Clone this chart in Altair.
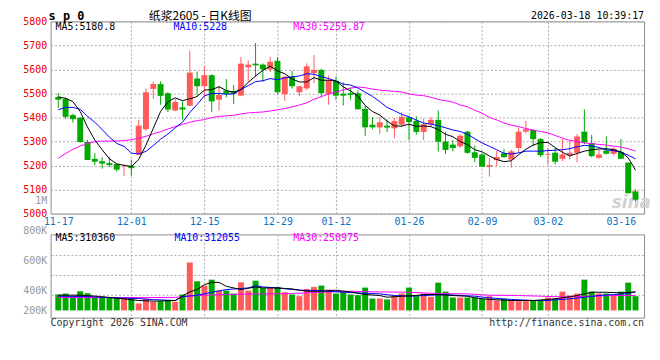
import altair as alt
import pandas as pd

# ---------------- data ----------------
dates = ["11-17","11-18","11-19","11-20","11-21","11-24","11-25","11-26","11-27","11-28",
         "12-01","12-02","12-03","12-04","12-05","12-08","12-09","12-10","12-11","12-12",
         "12-15","12-16","12-17","12-18","12-19","12-22","12-23","12-24","12-25","12-26",
         "12-29","12-30","12-31","01-05","01-06","01-07","01-08","01-09",
         "01-12","01-13","01-14","01-15","01-16","01-19","01-20","01-21","01-22","01-23",
         "01-26","01-27","01-28","01-29","01-30","02-02","02-03","02-04","02-05","02-06",
         "02-09","02-10","02-11","02-12","02-13","02-24","02-25","02-26","02-27",
         "03-02","03-03","03-04","03-05","03-06","03-09","03-10","03-11","03-12","03-13",
         "03-16","03-17","03-18"]

opens = [5485,5478,5410,5399,5298,5228,5218,5210,5206,5197,
         5199,5246,5351,5519,5539,5501,5429,5442,5449,5562,
         5530,5576,5474,5512,5510,5491,5609,5624,5620,5600,
         5636,5497,5570,5505,5521,5585,5598,5498,5553,5499,
         5501,5501,5436,5370,5359,5366,5355,5370,5401,5386,
         5340,5372,5390,5300,5287,5280,5341,5255,5246,5195,
         5223,5251,5225,5273,5341,5348,5310,5245,5253,5228,
         5243,5253,5341,5294,5232,5262,5249,5257,5212,5092]
highs = [5501,5482,5416,5402,5307,5251,5235,5235,5209,5205,
         5225,5390,5521,5550,5550,5505,5478,5467,5678,5591,
         5614,5580,5532,5560,5535,5652,5637,5710,5625,5652,
         5651,5572,5594,5531,5625,5660,5603,5574,5570,5546,
         5525,5512,5450,5402,5401,5393,5398,5422,5405,5405,
         5395,5402,5429,5341,5307,5330,5344,5283,5249,5232,
         5262,5270,5266,5358,5386,5350,5314,5273,5273,5311,
         5303,5330,5434,5328,5265,5321,5276,5311,5214,5100]
lows = [5440,5393,5379,5295,5223,5202,5187,5194,5175,5157,
        5157,5243,5345,5478,5453,5423,5426,5392,5447,5491,
        5484,5423,5429,5484,5457,5489,5549,5569,5549,5589,
        5497,5469,5521,5489,5514,5543,5483,5453,5474,5450,
        5474,5433,5324,5351,5332,5339,5314,5360,5305,5328,
        5306,5362,5258,5249,5259,5273,5249,5214,5195,5154,
        5198,5232,5191,5257,5334,5280,5235,5205,5205,5218,
        5225,5214,5289,5235,5228,5246,5242,5228,5083,5051]
closes = [5474,5403,5393,5298,5223,5216,5208,5202,5183,5199,
          5189,5366,5505,5539,5490,5433,5464,5433,5587,5530,
          5576,5467,5494,5497,5499,5624,5620,5617,5600,5632,
          5505,5570,5530,5530,5613,5598,5501,5553,5491,5491,
          5494,5434,5359,5359,5380,5358,5385,5403,5381,5340,
          5372,5390,5299,5265,5273,5324,5253,5232,5195,5202,
          5235,5235,5259,5341,5351,5310,5243,5248,5216,5246,
          5253,5321,5296,5239,5246,5249,5270,5228,5085,5058]
volumes_k = [266,282,238,321,288,210,210,221,210,210,
             210,116,194,144,155,166,144,266,802,487,
             415,515,332,332,282,470,332,498,376,393,
             393,304,266,238,360,393,415,349,282,304,
             266,255,382,199,199,183,238,282,382,238,
             282,227,465,315,216,216,216,216,194,238,
             166,194,183,155,155,160,160,216,194,315,
             249,282,515,315,282,282,255,315,465,238]

ma5 = [5486,5480,5466,5425,5360,5306,5266,5228,5207,5201,
       5196,5225,5285,5355,5425,5465,5482,5470,5478,5487,
       5514,5516,5528,5512,5505,5517,5546,5573,5596,5614,
       5594,5582,5560,5548,5548,5566,5555,5555,5552,5528,
       5510,5490,5450,5425,5410,5385,5365,5364,5372,5363,
       5365,5362,5350,5330,5320,5300,5287,5266,5257,5240,
       5225,5216,5220,5245,5268,5285,5296,5296,5275,5255,
       5240,5250,5260,5265,5269,5270,5266,5257,5232,5181]
ma10 = [5432,5442,5442,5434,5405,5380,5350,5318,5292,5280,
        5252,5248,5259,5283,5310,5331,5357,5380,5421,5454,
        5490,5500,5500,5497,5498,5516,5533,5549,5553,5562,
        5557,5565,5569,5573,5582,5580,5570,5562,5552,5539,
        5535,5523,5505,5488,5466,5442,5428,5413,5403,5389,
        5377,5372,5366,5357,5348,5342,5330,5312,5294,5280,
        5266,5251,5248,5253,5260,5260,5260,5262,5264,5266,
        5270,5278,5284,5282,5275,5265,5262,5256,5243,5228]
ma30 = [5230,5250,5268,5281,5292,5299,5302,5302,5302,5304,
        5307,5314,5322,5332,5341,5352,5362,5371,5380,5387,
        5391,5400,5404,5407,5409,5415,5419,5421,5423,5427,
        5432,5437,5444,5452,5461,5476,5487,5498,5505,5515,
        5522,5527,5524,5518,5514,5511,5509,5506,5498,5493,
        5491,5484,5475,5470,5464,5452,5445,5430,5418,5400,
        5390,5377,5368,5362,5354,5348,5342,5336,5325,5314,
        5305,5300,5294,5291,5288,5285,5281,5277,5270,5260]

vma5_idx = [0,3,5,8,11,13,16,17,18,19,20,21,22,23,25,27,28,30,32,34,36,38,40,42,44,45,47,49,50,52,54,56,57,59,62,65,67,69,71,73,75,77,79]
vma5_k = [255,255,240,205,166,155,166,240,310,350,430,470,470,404,349,393,376,376,360,321,321,338,310,266,249,221,238,249,266,266,249,238,210,183,166,166,183,210,249,304,304,293,310]
vma10_idx = [0,4,8,11,13,16,17,19,21,23,26,27,28,30,33,36,37,39,41,44,46,48,50,53,55,57,59,62,65,67,70,72,74,76,78,79]
vma10_k = [238,232,210,199,180,166,230,254,304,349,376,415,393,376,338,332,321,304,293,277,249,238,249,266,249,238,210,183,166,166,194,221,249,266,282,312]
vma30_idx = [0,6,12,16,18,20,23,27,30,34,37,40,44,48,52,56,59,63,66,69,73,76,79]
vma30_k = [215,215,215,218,238,254,266,277,277,293,310,321,310,304,282,277,254,249,238,227,238,249,251]

label_idx = [0, 10, 20, 30, 38, 48, 58, 67, 77]
price_ticks = [5000, 5056, 5100, 5200, 5300, 5400, 5500, 5600, 5700, 5800]
vol_label_ticks = [5000, 337000, 835000, 1270000]
vol_grid = [254000, 586000, 918000]

# ---------------- styling ----------------
RED = "#ff5b5b"
GREEN = "#00a800"
MONO = "DejaVu Sans Mono"
CJK = "Noto Sans CJK SC"
W, HP, HV = 599, 194, 84
GRIDC = "#aaaaaa"

n = len(dates)
df = pd.DataFrame({"i": list(range(n)), "open": opens, "high": highs, "low": lows,
                   "close": closes, "vol": [v * 1000 for v in volumes_k]})
df["dir"] = ["up" if c > o else "down" for o, c in zip(opens, closes)]

color = alt.Color("dir:N", scale=alt.Scale(domain=["up", "down"], range=[RED, GREEN]), legend=None)
xscale = alt.Scale(domain=[-0.373, 79.493], nice=False, zero=False)
grid_cond = {"condition": {"test": "datum.value == 0 || datum.value == 77", "value": 0}, "value": 1}
label_expr = "[" + ",".join("'%s'" % d for d in dates) + "][datum.value]"

x_price = alt.X("i:Q", scale=xscale, title=None,
                axis=alt.Axis(values=label_idx, labelExpr=label_expr, grid=True, gridOpacity=grid_cond,
                              gridColor=GRIDC, gridDash=[2, 2], labelColor="#0a72c2", labelPadding=3,
                              labelFont=MONO, labelFontSize=10, labelFlush=False, labelOverlap=False,
                              ticks=False, domain=False))
x_vol = alt.X("i:Q", scale=xscale, title=None,
              axis=alt.Axis(values=label_idx, labels=False, grid=True, gridOpacity=grid_cond,
                            gridColor=GRIDC, gridDash=[2, 2], ticks=False, domain=False))

yscale_p = alt.Scale(domain=[5000, 5800], nice=False, zero=False)
yaxis_p = alt.Axis(values=price_ticks, format="d",
                   labelExpr="datum.value == 5056 ? '1M' : datum.label",
                   labelColor={"condition": {"test": "datum.value == 5056", "value": "#999999"}, "value": "#ee0000"},
                   gridOpacity={"condition": {"test": "datum.value == 5056", "value": 0}, "value": 1},
                   grid=True, gridColor=GRIDC, gridDash=[2, 2], labelFont=MONO, labelFontSize=10,
                   labelPadding=4, labelOverlap=False, labelFlush=False, ticks=False, domain=False)

yscale_v = alt.Scale(domain=[-121000, 1273000], nice=False, zero=False)
yaxis_v = alt.Axis(values=vol_label_ticks,
                   labelExpr="datum.value < 100000 ? '200K' : datum.value < 500000 ? '400K' : datum.value < 1000000 ? '600K' : '800K'",
                   labelColor="#999999", grid=False, labelFont=MONO, labelFontSize=10, labelPadding=4,
                   labelOffset={"condition": {"test": "datum.value > 1000000", "value": -4}, "value": 0},
                   labelOverlap=False, labelFlush=False, ticks=False, domain=False)


def txt(s, x, y, col="#000000", size=10, font=MONO, align="left", weight="normal", style="normal"):
    return alt.Chart(pd.DataFrame({"t": [s]})).mark_text(
        align=align, baseline="middle", font=font, fontSize=size, color=col,
        fontWeight=weight, fontStyle=style).encode(x=alt.value(x), y=alt.value(y), text="t:N")


base = alt.Chart(df)
wicks = base.mark_rule(strokeWidth=1).encode(
    x=x_price, y=alt.Y("low:Q", scale=yscale_p, axis=yaxis_p, title=None), y2="high:Q", color=color)
bodies = base.mark_bar(size=6).encode(
    x=x_price, y=alt.Y("open:Q", scale=yscale_p, axis=yaxis_p, title=None), y2="close:Q", color=color)

ma_layers = []
for vals, c in [(ma30, "#ff00ff"), (ma10, "#0000ff"), (ma5, "#000000")]:
    d = pd.DataFrame({"i": list(range(n)), "v": vals})
    ma_layers.append(alt.Chart(d).mark_line(color=c, strokeWidth=1).encode(
        x=x_price, y=alt.Y("v:Q", scale=yscale_p, axis=yaxis_p, title=None)))

price = alt.layer(
    txt("sina", 586, 183, col="#d2d2d2", size=17, font="DejaVu Sans", align="center", weight="bold", style="italic"),
    txt("\u25cf", 589, 172, col="#f3c0c0", size=8, align="center"),
    wicks, bodies, *ma_layers,
    txt("MA5:5180.8", 5, 5.5, "#000000"),
    txt("MA10:5228", 124, 5.5, "#0000ff"),
    txt("MA30:5259.87", 245, 5.5, "#ff00ff"),
    txt("s p 0", -2, -5.5, "#000000", size=12, weight="bold"),
    txt("纸浆2605 - 日K线图", 151, -5.5, "#000000", size=12, font=CJK, align="center"),
    txt("2026-03-18 10:39:17", 599, -5.5, "#000000", size=10, align="right"),
).properties(width=W, height=HP)

vbars = base.mark_bar(size=6).encode(
    x=x_vol, y=alt.Y("vol:Q", scale=yscale_v, axis=yaxis_v, title=None), y2=alt.datum(0), color=color)
vgrid = alt.Chart(pd.DataFrame({"g": vol_grid})).mark_rule(color=GRIDC, strokeDash=[2, 2], strokeWidth=1).encode(
    y=alt.Y("g:Q", scale=yscale_v, axis=yaxis_v, title=None))
vma_layers = []
for ix, vals, c in [(vma30_idx, vma30_k, "#ff00ff"), (vma10_idx, vma10_k, "#0000ff"), (vma5_idx, vma5_k, "#000000")]:
    d = pd.DataFrame({"i": ix, "v": [v * 1000 for v in vals]})
    vma_layers.append(alt.Chart(d).mark_line(color=c, strokeWidth=1).encode(
        x=x_vol, y=alt.Y("v:Q", scale=yscale_v, axis=yaxis_v, title=None)))

volume = alt.layer(
    vgrid, vbars, *vma_layers,
    txt("MA5:310360", 5, 4, "#000000"),
    txt("MA10:312055", 125, 4, "#0000ff"),
    txt("MA30:250975", 245, 4, "#ff00ff"),
    txt("Copyright 2026 SINA.COM", 0, 89.5, "#333333"),
    txt("http://finance.sina.com.cn", 599, 89.5, "#333333", align="right"),
).properties(width=W, height=HV)

chart = alt.vconcat(price, volume, spacing=21, bounds="flush").resolve_scale(
    y="independent"
).properties(
    padding={"left": 14, "top": 0, "right": 0, "bottom": 2}
).configure_view(stroke="#8c8c8c", strokeWidth=1)

chart.save("out.html", embed_options={"renderer": "svg", "actions": False})
